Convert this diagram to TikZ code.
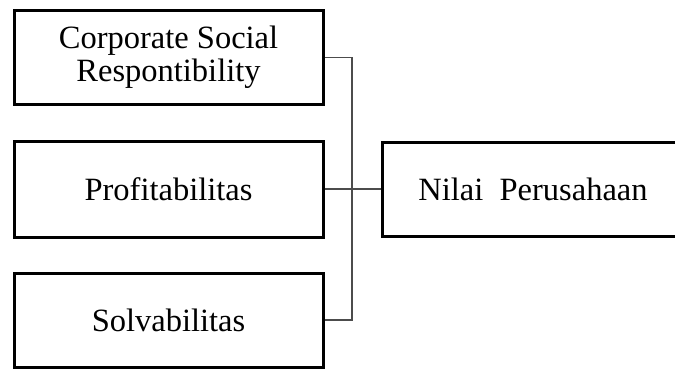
\documentclass[tikz,border=0pt]{standalone}
\usepackage{fontspec}
\setmainfont{Liberation Serif}
\begin{document}
\begin{tikzpicture}[x=1pt,y=-1pt,
  varbox/.style={draw,line width=3pt,minimum width=309pt,minimum height=94pt,
    inner sep=0pt,align=center,font=\fontsize{32.5}{33}\selectfont},
  link/.style={draw=black!70,line width=1.3pt}]
\useasboundingbox (0,0) rectangle (675,369);

\node[varbox] (csr) at (168.5,57.5) {Corporate Social\\Respontibility};
\node[varbox,minimum height=96pt] (prof) at (168.5,189) {Profitabilitas};
\node[varbox] (solv) at (168.5,320) {Solvabilitas};
\node[varbox,minimum width=302pt] (nilai) at (533,189) {Nilai\ \ Perusahaan};

\coordinate (bus) at (352,189);
\draw[link] (csr.east) -| (bus) |- (solv.east);
\draw[link] (prof.east) -- (nilai.west);
\end{tikzpicture}
\end{document}
